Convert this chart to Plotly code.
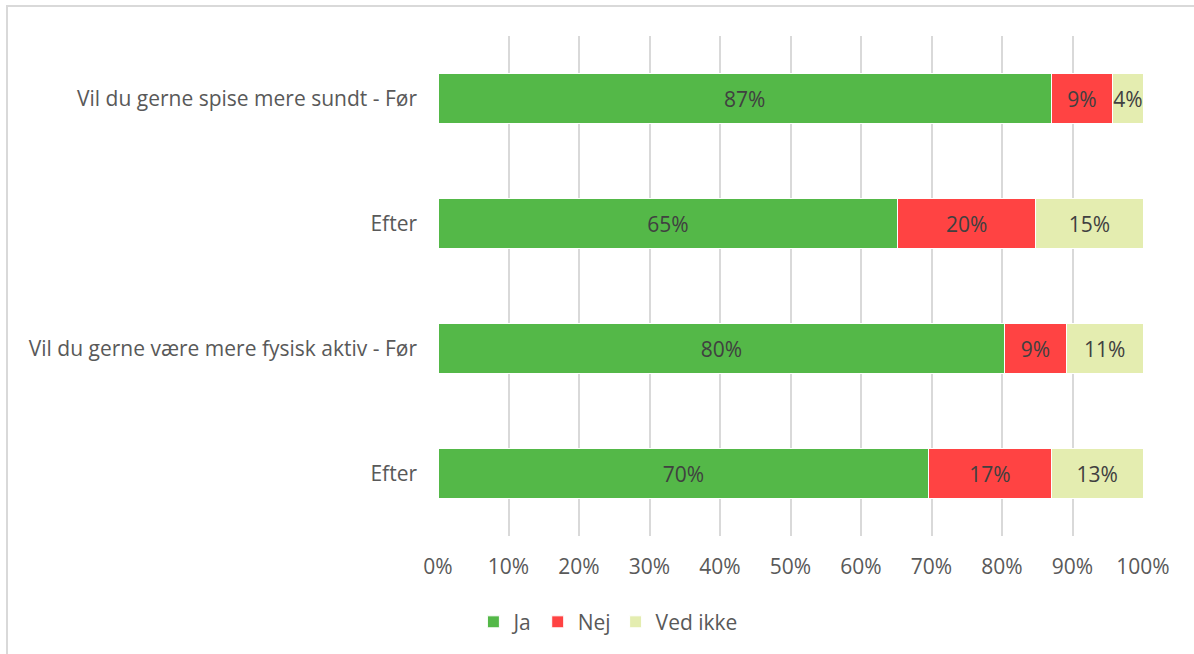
import plotly.graph_objects as go

categories = ["Vil du gerne spise mere sundt - Før", "Efter",
              "Vil du gerne være mere fysisk aktiv - Før", "Efter"]
ja = [87.0, 65.2, 80.4, 69.6]
nej = [8.7, 19.6, 8.7, 17.4]
ved_ikke = [4.3, 15.2, 10.9, 13.0]
series = [("Ja", ja, "#54B848"), ("Nej", nej, "#FF4343"), ("Ved ikke", ved_ikke, "#E4EDB0")]
xticks = list(range(0, 101, 10))

FONT = "Open Sans"
FS = 21
ypos = list(range(len(categories)))
fig = go.Figure()
for name, vals, col in series:
    fig.add_trace(go.Bar(
        y=ypos, x=vals, name=name, orientation="h",
        marker=dict(color=col, line=dict(color="white", width=1)),
        width=0.4,
        texttemplate="%{x:.0f}%", textposition="inside", insidetextanchor="middle",
        textangle=0, constraintext="none",
        textfont=dict(color="#404040", size=FS, family=FONT),
        hoverinfo="skip",
    ))

fig.update_layout(
    barmode="stack",
    width=1194, height=654,
    margin=dict(l=438, r=51, t=36, b=117),
    paper_bgcolor="white", plot_bgcolor="white",
    font=dict(family=FONT, size=FS, color="#595959"),
    uniformtext=dict(minsize=FS, mode="show"),
    showlegend=True,
    legend=dict(orientation="h", x=0.241, xanchor="center", y=-0.17, yanchor="middle",
                font=dict(size=FS, color="#595959"), traceorder="normal",
                itemwidth=30),
    xaxis=dict(range=[0, 100], tickvals=xticks, ticktext=[f"{v}%" for v in xticks],
               showgrid=True, gridcolor="#D9D9D9", gridwidth=2, zeroline=False,
               showline=False, ticks="", ticklabelstandoff=16, fixedrange=True),
    yaxis=dict(tickvals=ypos, ticktext=categories, range=[3.5, -0.5],
               showgrid=False, zeroline=False, showline=False, ticks="",
               ticklabelstandoff=20),
    shapes=[dict(type="rect", xref="paper", yref="paper",
                 x0=(7 - 438) / 705, x1=(1300 - 438) / 705,
                 y0=(537 - 760) / 501, y1=(537 - 6) / 501,
                 line=dict(color="#D9D9D9", width=2), fillcolor="rgba(0,0,0,0)", layer="below")],
)
fig.write_html("out.html")
